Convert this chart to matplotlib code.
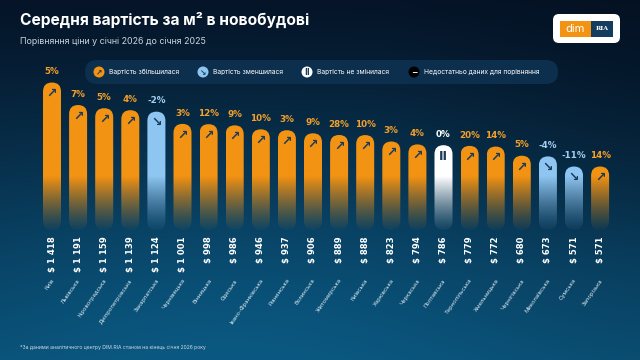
import numpy as np
import matplotlib
matplotlib.use('Agg')
import matplotlib.pyplot as plt
from matplotlib.patches import FancyBboxPatch, Circle
from matplotlib.colors import to_rgb

regions = ['Київ', 'Львівська', 'Кіровоградська', 'Дніпропетровська', 'Закарпатська',
           'Чернівецька', 'Вінницька', 'Одеська', 'Івано-Франківська', 'Рівненська',
           'Волинська', 'Житомирська', 'Київська', 'Харківська', 'Черкаська',
           'Полтавська', 'Тернопільська', 'Хмельницька', 'Чернігівська',
           'Миколаївська', 'Сумська', 'Запорізька']
prices = [1418, 1191, 1159, 1139, 1124, 1001, 998, 986, 946, 937, 906,
          889, 888, 823, 794, 786, 779, 772, 680, 673, 571, 571]
changes = [5, 7, 5, 4, -2, 3, 12, 9, 10, 3, 9, 28, 10, 3, 4, 0, 20, 14, 5, -4, -11, 14]

legend_labels = ['Вартість збільшилася', 'Вартість зменшилася',
                 'Вартість не змінилася', 'Недостатньо даних для порівняння']

ORANGE = '#F39313'
BLUE = '#8EC6F2'
WHITE = '#FFFFFF'
ICON = '#1C3A5A'
W, H = 640, 360

fig = plt.figure(figsize=(6.4, 3.6), dpi=100)

# background + decorations in pixel coordinates
deco = fig.add_axes([0, 0, 1, 1], zorder=0)
deco.set_xlim(0, W)
deco.set_ylim(H, 0)
deco.axis('off')

yy, xx = np.mgrid[0:H, 0:W]
top = np.array(to_rgb('#051326'))
bot = np.array(to_rgb('#0A4A6D'))
t = (yy / H) ** 1.1
bg = top * (1 - t[..., None]) + bot * t[..., None]
glow = np.exp(-(((xx - 230) / 330) ** 2 + ((yy - 390) / 210) ** 2))
bg = bg * (1 - 0.55 * glow[..., None]) + np.array(to_rgb('#0B6695')) * 0.55 * glow[..., None]
dark = np.clip((xx - 380) / 260, 0, 1) * np.clip(1 - yy / 260, 0, 1)
bg = bg * (1 - 0.5 * dark[..., None]) + np.array(to_rgb('#03101F')) * 0.5 * dark[..., None]
deco.imshow(bg, extent=(0, W, H, 0), aspect='auto', zorder=0)

deco.text(20, 20, 'Середня вартість за м² в новобудові', color='white', fontsize=11.2,
          fontweight='bold', family='Inter', va='center', ha='left')
deco.text(20, 42, 'Порівняння ціни у січні 2026 до січня 2025', color='#C8D3DD', fontsize=6.4,
          family='Inter', va='center', ha='left')
deco.text(20, 347, '*За даними аналітичного центру DIM.RIA станом на кінець січня 2026 року',
          color='#D0DCE6', fontsize=3.6, family='Inter', va='center', ha='left')

# logo
deco.add_patch(FancyBboxPatch((553, 14), 67, 29, boxstyle='round,pad=0,rounding_size=6',
                              fc='white', ec='none', zorder=2))
deco.add_patch(plt.Rectangle((560, 21), 31, 16, fc='#F39313', ec='none', zorder=3))
deco.add_patch(plt.Rectangle((591, 21), 22, 16, fc='#143C5E', ec='none', zorder=3))
deco.text(575.5, 29, 'dim', color='white', fontsize=8, family='Inter', ha='center', va='center', zorder=4)
deco.text(602, 28.5, 'RIA', color='white', fontsize=4.5, family='DejaVu Serif', fontweight='bold',
          ha='center', va='center', zorder=4)

# legend pill
deco.add_patch(FancyBboxPatch((85, 60), 473, 24, boxstyle='round,pad=0,rounding_size=12',
                              fc='#0C2F4E', ec='none', zorder=2))
leg_x = [99, 203, 307, 414]
leg_fc = [ORANGE, BLUE, WHITE, '#000000']
leg_sym = ['↗', '↘', 'II', '−']
leg_sc = [ICON, ICON, ICON, WHITE]
for x, fc, s, sc, lab in zip(leg_x, leg_fc, leg_sym, leg_sc, legend_labels):
    deco.add_patch(Circle((x, 72), 5.5, fc=fc, ec='none', zorder=3))
    deco.text(x, 72.3, s, color=sc, fontsize=5.5, fontweight='bold', ha='center', va='center', zorder=4)
    deco.text(x + 10, 72, lab, color='white', fontsize=4.8, family='Inter', ha='left', va='center', zorder=4)

# bars axes (whole figure, data scale)
ax = fig.add_axes([0, 0, 1, 1], zorder=1)
ax.patch.set_alpha(0)
ax.axis('off')
x_lo, x_hi = -52 / 26.1, (W - 52) / 26.1
y_lo, y_hi = -1380, 2250
ax.set_xlim(x_lo, x_hi)
ax.set_ylim(y_lo, y_hi)
base = -69
fade_top = 470
bw = 0.69
asp = ((y_hi - y_lo) / H) / ((x_hi - x_lo) / W)

for i, (name, p, c) in enumerate(zip(regions, prices, changes)):
    if c > 0:
        col, sym, lc = ORANGE, '↗', '#F5A02A'
    elif c < 0:
        col, sym, lc = BLUE, '↘', '#A2CEF2'
    else:
        col, sym, lc = WHITE, 'II', WHITE
    rgb = to_rgb(col)
    ys = np.linspace(base, p, 200)
    a = np.clip((ys - base) / (fade_top - base), 0, 1)
    a = 0.04 + 0.96 * a ** 1.2
    img = np.zeros((200, 1, 4))
    img[:, 0, :3] = rgb
    img[:, 0, 3] = a
    clip = FancyBboxPatch((i - bw / 2, base), bw, p - base,
                          boxstyle=f'round,pad=0,rounding_size={bw / 2}',
                          mutation_aspect=asp, fc='none', ec='none')
    ax.add_patch(clip)
    im = ax.imshow(img, extent=(i - bw / 2, i + bw / 2, base, p), origin='lower',
                   aspect='auto', interpolation='bilinear', zorder=2)
    im.set_clip_path(clip)
    ax.annotate(sym, (i, p), xytext=(0, -8), textcoords='offset points', ha='center', va='center',
                color=ICON, fontsize=9, fontweight='bold', zorder=3)
    ax.annotate(f'{c}%', (i, p), xytext=(0, 4.5), textcoords='offset points', ha='center',
                va='bottom', color=lc, fontsize=6.3, fontweight='bold', zorder=3)
    price = f'$ {p:,}'.replace(',', ' ')
    ax.annotate(price, (i, base), xytext=(0, -4.5), textcoords='offset points', ha='center',
                va='top', rotation=90, color='white', fontsize=6.1, fontweight='bold', zorder=3)
    ax.annotate(name, (i, base), xytext=(1, -35.5), textcoords='offset points', ha='right',
                va='center', rotation=55, rotation_mode='anchor', color='#E0EAF2',
                fontsize=4.2, family='Inter', zorder=3)

fig.savefig('out.png', dpi=100)
